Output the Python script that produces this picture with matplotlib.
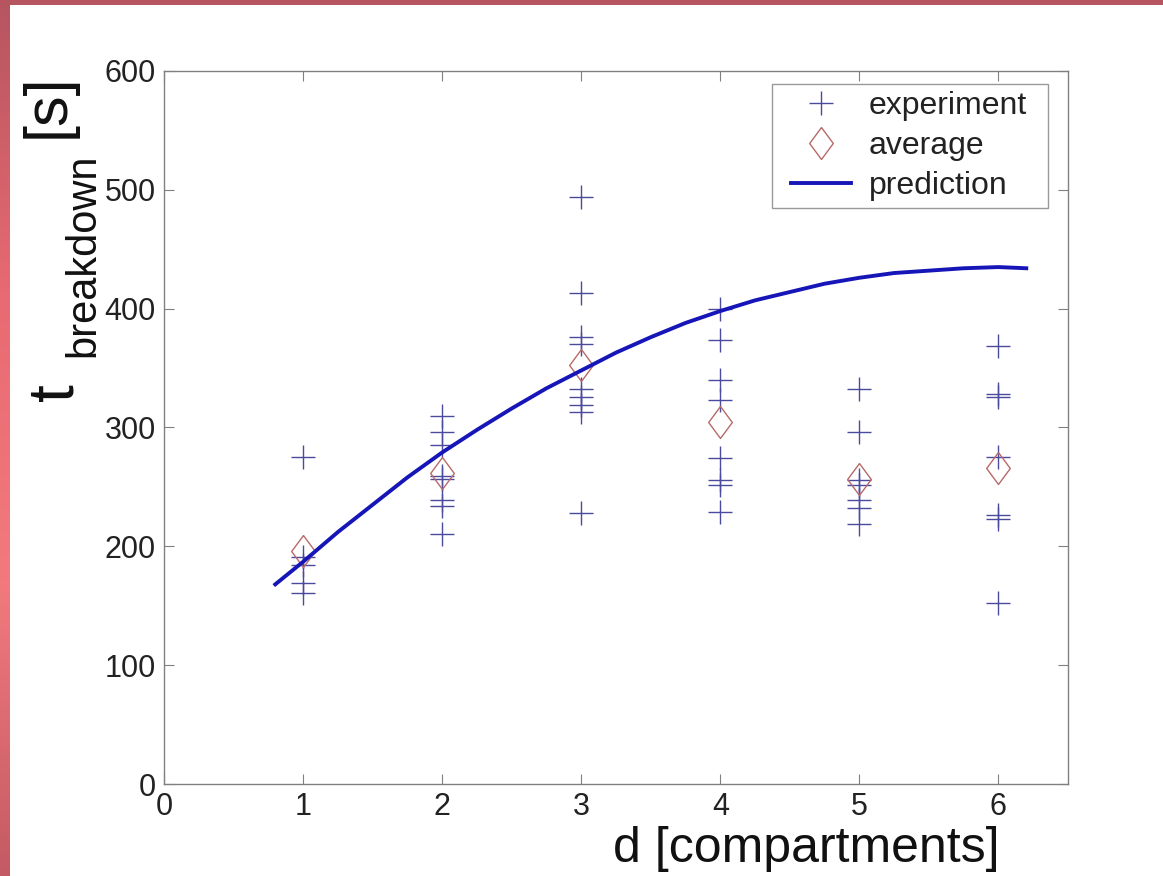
import matplotlib
matplotlib.use("Agg")
import matplotlib.pyplot as plt
from matplotlib.colors import LinearSegmentedColormap
from matplotlib.legend_handler import HandlerLine2D
from matplotlib.lines import Line2D
import numpy as np

plt.rcParams['font.family'] = ['Liberation Sans', 'DejaVu Sans']

# measured breakdown times per number of compartments
compartments = [1, 2, 3, 4, 5, 6]
t_experiment = [
    [275, 191, 184, 169, 161],
    [310, 296, 285, 259, 257, 239, 234, 210],
    [494, 413, 376, 370, 332, 326, 319, 313, 228],
    [400, 374, 340, 323, 274, 256, 252, 229],
    [332, 296, 256, 252, 239, 232, 219],
    [369, 328, 326, 275, 226, 223, 152],
]
t_average = [196, 262, 353, 305, 257, 266]

# model curve
d_pred = [0.8, 1.0, 1.25, 1.5, 1.75, 2.0, 2.25, 2.5, 2.75, 3.0, 3.25, 3.5,
          3.75, 4.0, 4.25, 4.5, 4.75, 5.0, 5.25, 5.5, 5.75, 6.0, 6.2]
t_pred = [168, 187, 212, 235, 258, 279, 298, 316, 333, 348, 363, 376,
          388, 398, 407, 414, 421, 426, 430, 432, 434, 435, 434]

xticks = [0, 1, 2, 3, 4, 5, 6]
yticks = [0, 100, 200, 300, 400, 500, 600]

d_exp = np.concatenate([[d] * len(t) for d, t in zip(compartments, t_experiment)])
t_exp = np.concatenate(t_experiment)

W, H = 1163, 876
fig = plt.figure(figsize=(W / 100, H / 100), dpi=100)
fig.patch.set_facecolor('white')

# red frame on the left and top edge
grad = np.linspace(0, 1, 256).reshape(-1, 1)
edge_cmap = LinearSegmentedColormap.from_list('edge', ['#b65560', '#e86a72', '#f27a7e', '#c45a64'])
bax = fig.add_axes([0, 0, 10 / W, 1])
bax.imshow(grad, aspect='auto', cmap=edge_cmap)
bax.axis('off')
tax = fig.add_axes([0, 1 - 5 / H, 1, 5 / H])
tax.axis('off')
tax.add_patch(plt.Rectangle((0, 0), 1, 1, color='#b65560', transform=tax.transAxes))

ax = fig.add_axes([164 / W, 92 / H, 904 / W, 713 / H])

diamond = [(0, 1), (0.74, 0), (0, -1), (-0.74, 0), (0, 1)]

ax.plot(d_exp, t_exp, linestyle='none', marker='+', markersize=17,
        markeredgewidth=1.0, color='#4b4b9e', label='experiment')
ax.plot(compartments, t_average, linestyle='none', marker=diamond, markersize=23,
        markerfacecolor='none', markeredgecolor='#b86a6a', markeredgewidth=1.0,
        label='average')
ax.plot(d_pred, t_pred, color='#1616b8', linewidth=2.8, label='prediction',
        solid_joinstyle='round')

ax.set_xlim(0, 6.5)
ax.set_ylim(0, 600)
ax.set_xticks(xticks)
ax.set_yticks(yticks)
ax.tick_params(direction='in', length=7, width=0.8, color='#808080',
               labelsize=22, labelcolor='#222222', top=True, right=True, pad=6)
for s in ax.spines.values():
    s.set_color('#808080')
    s.set_linewidth(1.0)

leg = ax.legend(loc='upper left', bbox_to_anchor=(0.6726, 0.5, 0.3053, 0.4818),
                mode='expand', fontsize=23, frameon=True, fancybox=False,
                edgecolor='#808080', handlelength=2.24, handletextpad=0.56,
                labelspacing=0.31, borderpad=0.23, borderaxespad=0,
                handler_map={Line2D: HandlerLine2D(xpad=0.37)})
leg.get_frame().set_linewidth(1.0)
for t in leg.get_texts():
    t.set_color('#222222')

fig.text(1000 / W, 14 / H, 'd [compartments]', fontsize=36,
         ha='right', va='baseline', color='#111111')

# y label: large t with the subscript set beside it, unit on top
fig.text(55 / W, 1 - 401 / H, 't', fontsize=46, rotation=90,
         ha='center', va='bottom', color='#111111')
fig.text(83 / W, 1 - 357 / H, 'breakdown', fontsize=30, rotation=90,
         ha='center', va='bottom', color='#111111')
fig.text(48 / W, 1 - 73 / H, '[s]', fontsize=44, rotation=90,
         ha='center', va='top', color='#111111')

fig.savefig('out.png', dpi=100)
